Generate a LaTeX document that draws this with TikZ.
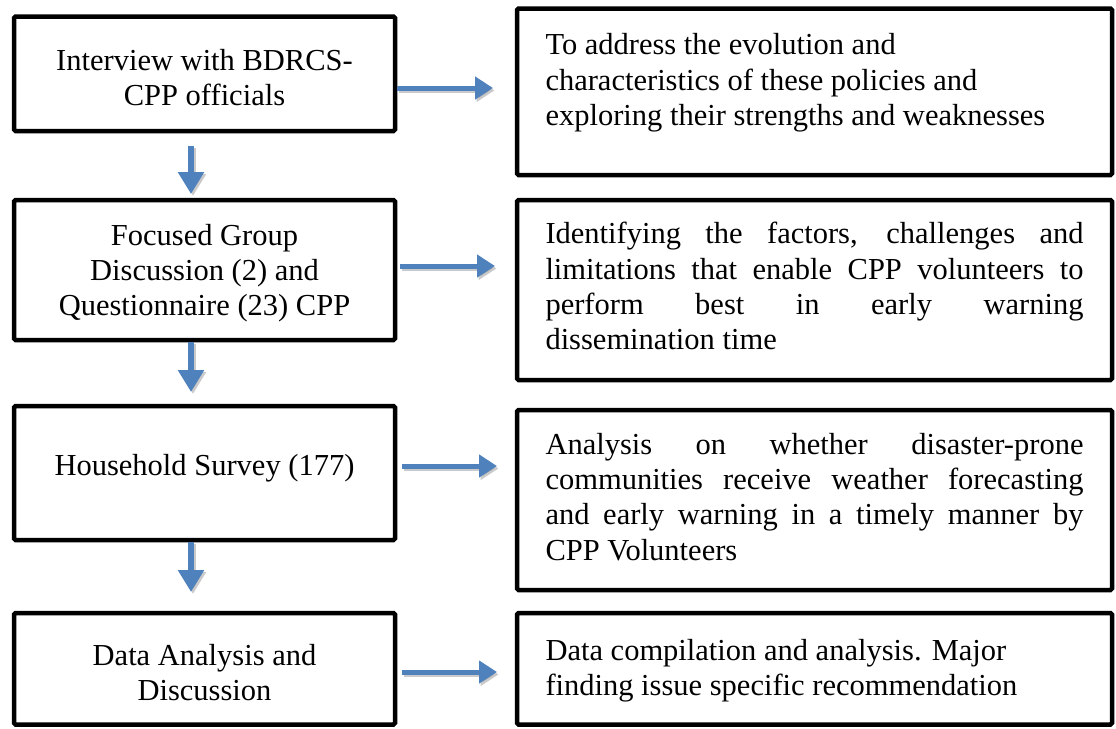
\documentclass[tikz,border=0pt]{standalone}
\usepackage{fontspec}
\setmainfont{Liberation Serif}
\usetikzlibrary{arrows.meta}
\definecolor{arrowblue}{RGB}{79,129,189}
\definecolor{shadegray}{RGB}{150,150,150}
% one justified line of a block paragraph
\newcommand\jl[1]{\makebox[\linewidth][s]{#1}\\}

\begin{document}
\begin{tikzpicture}[x=1pt,y=-1pt,
  box/.style={draw=black, line width=4.5pt, rounded corners=1.5pt, inner sep=0pt},
  lbox/.style={box, minimum width=381pt},
  rbox/.style={box, minimum width=595pt},
  txt/.style={inner sep=0pt, font=\fontsize{30.5}{35.1}\selectfont},
  ltxt/.style={txt, align=center},
  varrow/.style={line width=6pt, -{Triangle[width=25pt,length=22pt]}, color=arrowblue},
  harrow/.style={line width=5pt, -{Triangle[width=22pt,length=18pt]}, color=arrowblue},
  vshade/.style={varrow, color=shadegray, opacity=.5, transform canvas={xshift=2pt,yshift=-2pt}},
  hshade/.style={harrow, color=shadegray, opacity=.5, transform canvas={xshift=1.5pt,yshift=-2.5pt}}
]
\useasboundingbox (0,0) rectangle (1116,728);

% methods column
\node[lbox, minimum height=114.5pt] (L1) at (204.5,73.75) {};
\node[lbox, minimum height=140pt]   (L2) at (204.5,270)   {};
\node[lbox, minimum height=134pt]   (L3) at (204.5,473)   {};
\node[lbox, minimum height=111.5pt] (L4) at (204.5,668.75){};
\node[ltxt] (L1t) at ([yshift=-4pt]L1.center) {Interview with BDRCS-\\CPP officials};
\node[ltxt] (L2t) at ([yshift=-3pt]L2.center) {Focused Group\\Discussion (2) and\\Questionnaire (23) CPP};
\node[ltxt] (L3t) at ([yshift=5pt]L3.center)  {Household Survey (177)};
\node[ltxt] (L4t) at ([yshift=-4pt]L4.center) {Data Analysis and\\Discussion};

% purpose column
\node[rbox, minimum height=166.5pt] (R1) at (814.5,91.75)  {};
\node[rbox, minimum height=180pt]   (R2) at (814.5,290)    {};
\node[rbox, minimum height=180pt]   (R3) at (814.5,500)    {};
\node[rbox, minimum height=111.5pt] (R4) at (814.5,668.75) {};
\node[txt] (R1t) at ([yshift=9pt]R1.center) {\parbox{538pt}{%
  To address the evolution and\\
  characteristics of these policies and\\
  exploring their strengths and weaknesses}};
\node[txt] (R2t) at ([yshift=4pt]R2.center) {\parbox{538pt}{%
  \jl{Identifying the factors, challenges and}%
  \jl{limitations that enable CPP volunteers to}%
  \jl{perform best in early warning}%
  dissemination time}};
\node[txt] (R3t) at ([yshift=3pt]R3.center) {\parbox{538pt}{%
  \jl{Analysis on whether disaster-prone}%
  \jl{communities receive weather forecasting}%
  \jl{and early warning in a timely manner by}%
  CPP Volunteers}};
\node[txt] (R4t) at ([yshift=-2pt]R4.center) {\parbox{538pt}{%
  Data compilation and analysis. Major\\
  finding issue specific recommendation}};

% downward flow
\draw[vshade] ([shift={(-13.5,12.75)}]L1.south) -- ([shift={(-13.5,-3.75)}]L2.north);
\draw[varrow] ([shift={(-13.5,12.75)}]L1.south) -- ([shift={(-13.5,-3.75)}]L2.north);
\draw[vshade] ([shift={(-13.5,0)}]L2.south) -- ([shift={(-13.5,-11.75)}]L3.north);
\draw[varrow] ([shift={(-13.5,0)}]L2.south) -- ([shift={(-13.5,-11.75)}]L3.north);
\draw[vshade] ([shift={(-13.5,0)}]L3.south) -- ([shift={(-13.5,-18.75)}]L4.north);
\draw[varrow] ([shift={(-13.5,0)}]L3.south) -- ([shift={(-13.5,-18.75)}]L4.north);

% method to purpose
\draw[hshade] ([shift={(0,14.25)}]L1.east) -- ([shift={(-21.75,-3.75)}]R1.west);
\draw[harrow] ([shift={(0,14.25)}]L1.east) -- ([shift={(-21.75,-3.75)}]R1.west);
\draw[hshade] ([shift={(2.75,-4)}]L2.east) -- ([shift={(-19.75,-24)}]R2.west);
\draw[harrow] ([shift={(2.75,-4)}]L2.east) -- ([shift={(-19.75,-24)}]R2.west);
\draw[hshade] ([shift={(4.75,-7)}]L3.east) -- ([shift={(-17.75,-34)}]R3.west);
\draw[harrow] ([shift={(4.75,-7)}]L3.east) -- ([shift={(-17.75,-34)}]R3.west);
\draw[hshade] ([shift={(4.75,3.25)}]L4.east) -- ([shift={(-17.75,3.25)}]R4.west);
\draw[harrow] ([shift={(4.75,3.25)}]L4.east) -- ([shift={(-17.75,3.25)}]R4.west);
\end{tikzpicture}
\end{document}
